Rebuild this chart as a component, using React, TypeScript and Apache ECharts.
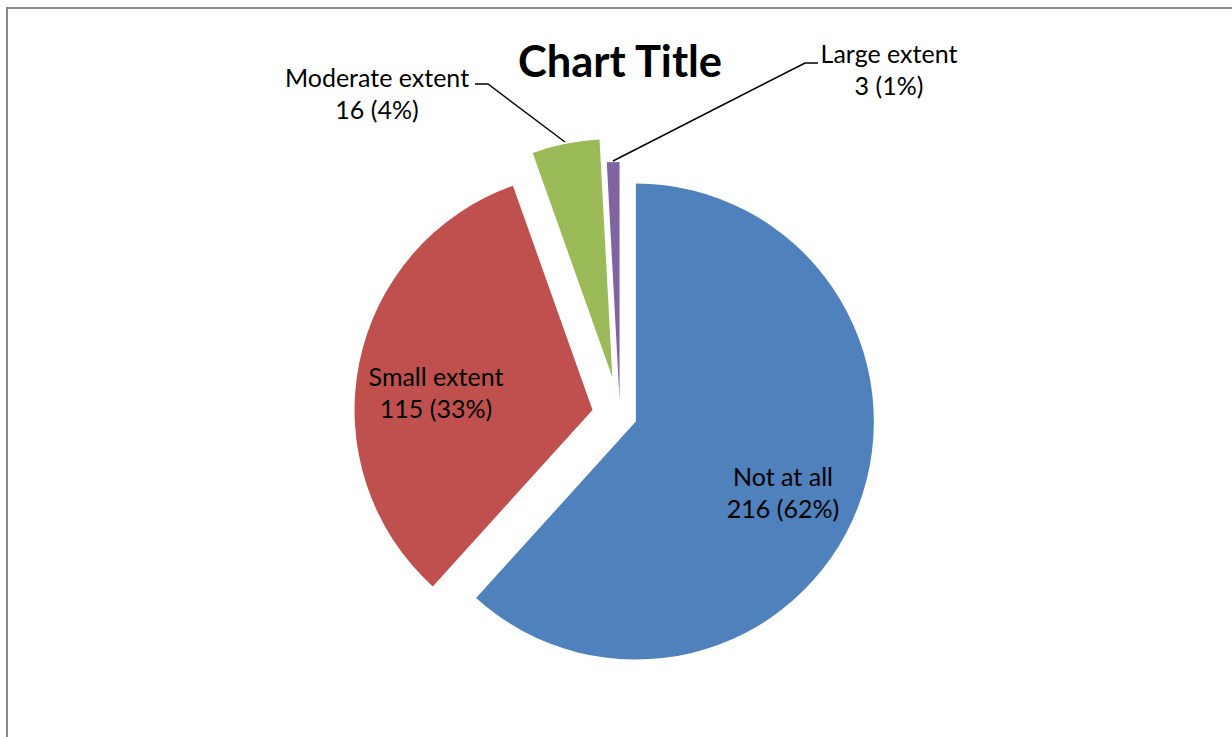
import React, { useEffect, useRef } from "react";
import * as echarts from "echarts";

// ---- data ----
const categories = ["Not at all", "Small extent", "Moderate extent", "Large extent"];
const counts = [216, 115, 16, 3];
const percentLabels = [62, 33, 4, 1];

// ---- styling / layout ----
const colors = ["#4F81BD", "#C0504D", "#9BBB59", "#8064A2"];
const pieCenter = [620, 415.5];
const pieRadius = 238;
const explodeOffsets = [17, 28, 39, 15.5];
const labelPos: number[][] = [
  [783, 492],
  [436, 392],
  [377, 93],
  [889, 69],
];
const leaderLines: (number[][] | null)[] = [
  null,
  null,
  [
    [565, 142],
    [488, 84],
    [475, 84],
  ],
  [
    [613, 161],
    [805, 63],
    [818, 63],
  ],
];

const FONT = "Lato, 'Open Sans', sans-serif";

export default function App() {
  const ref = useRef<HTMLDivElement>(null);

  useEffect(() => {
    if (!ref.current) return;
    const chart = echarts.init(ref.current, undefined, { renderer: "svg" });

    const total = counts.reduce((a, b) => a + b, 0);
    let cum = 0;
    const centers = counts.map((v, k) => {
      const mid = ((cum + v / 2) / total) * 2 * Math.PI;
      cum += v;
      const off = explodeOffsets[k];
      return [pieCenter[0] + off * Math.sin(mid), pieCenter[1] - off * Math.cos(mid)];
    });

    const series = categories.map((_, k) => {
      const outside = leaderLines[k] != null;
      const layout: any = {
        x: labelPos[k][0],
        y: labelPos[k][1],
        align: "center",
        verticalAlign: "middle",
      };
      if (outside) layout.labelLinePoints = leaderLines[k];
      return {
        type: "pie",
        center: centers[k],
        radius: pieRadius,
        startAngle: 90,
        clockwise: true,
        silent: true,
        avoidLabelOverlap: false,
        emphasis: { disabled: true },
        itemStyle: { borderWidth: 0 },
        label: {
          show: true,
          position: outside ? "outside" : "inside",
          color: "#000",
          fontFamily: FONT,
          fontSize: 25,
          lineHeight: 32,
          align: "center",
          formatter: (p: any) =>
            `${p.name}\n${p.value} (${percentLabels[p.dataIndex]}%)`,
        },
        labelLine: {
          show: outside,
          smooth: false,
          lineStyle: { color: "#000", width: 1.5 },
        },
        labelLayout: layout,
        data: categories.map((name, i) => ({
          name,
          value: counts[i],
          itemStyle:
            i === k
              ? { color: colors[i] }
              : { color: "rgba(0,0,0,0)", opacity: 0 },
          label: { show: i === k },
          labelLine: { show: i === k && outside },
        })),
      };
    });

    chart.setOption({
      animation: false,
      backgroundColor: "#ffffff",
      tooltip: { show: false },
      graphic: [
        {
          type: "rect",
          z: -10,
          shape: { x: 7, y: 8, width: 1400, height: 1000 },
          style: { fill: "none", stroke: "#898989", lineWidth: 2 },
        },
        {
          type: "text",
          x: 620,
          y: 60,
          style: {
            text: "Chart Title",
            fill: "#000",
            fontFamily: FONT,
            fontWeight: "bold",
            fontSize: 43.5,
            align: "center",
            verticalAlign: "middle",
          },
        },
      ],
      series,
    });

    return () => chart.dispose();
  }, []);

  return (
    <div
      style={{
        position: "fixed",
        left: 0,
        top: 0,
        width: 1232,
        height: 737,
        overflow: "hidden",
        background: "#fff",
      }}
    >
      <div ref={ref} style={{ width: 1232, height: 737 }} />
    </div>
  );
}
